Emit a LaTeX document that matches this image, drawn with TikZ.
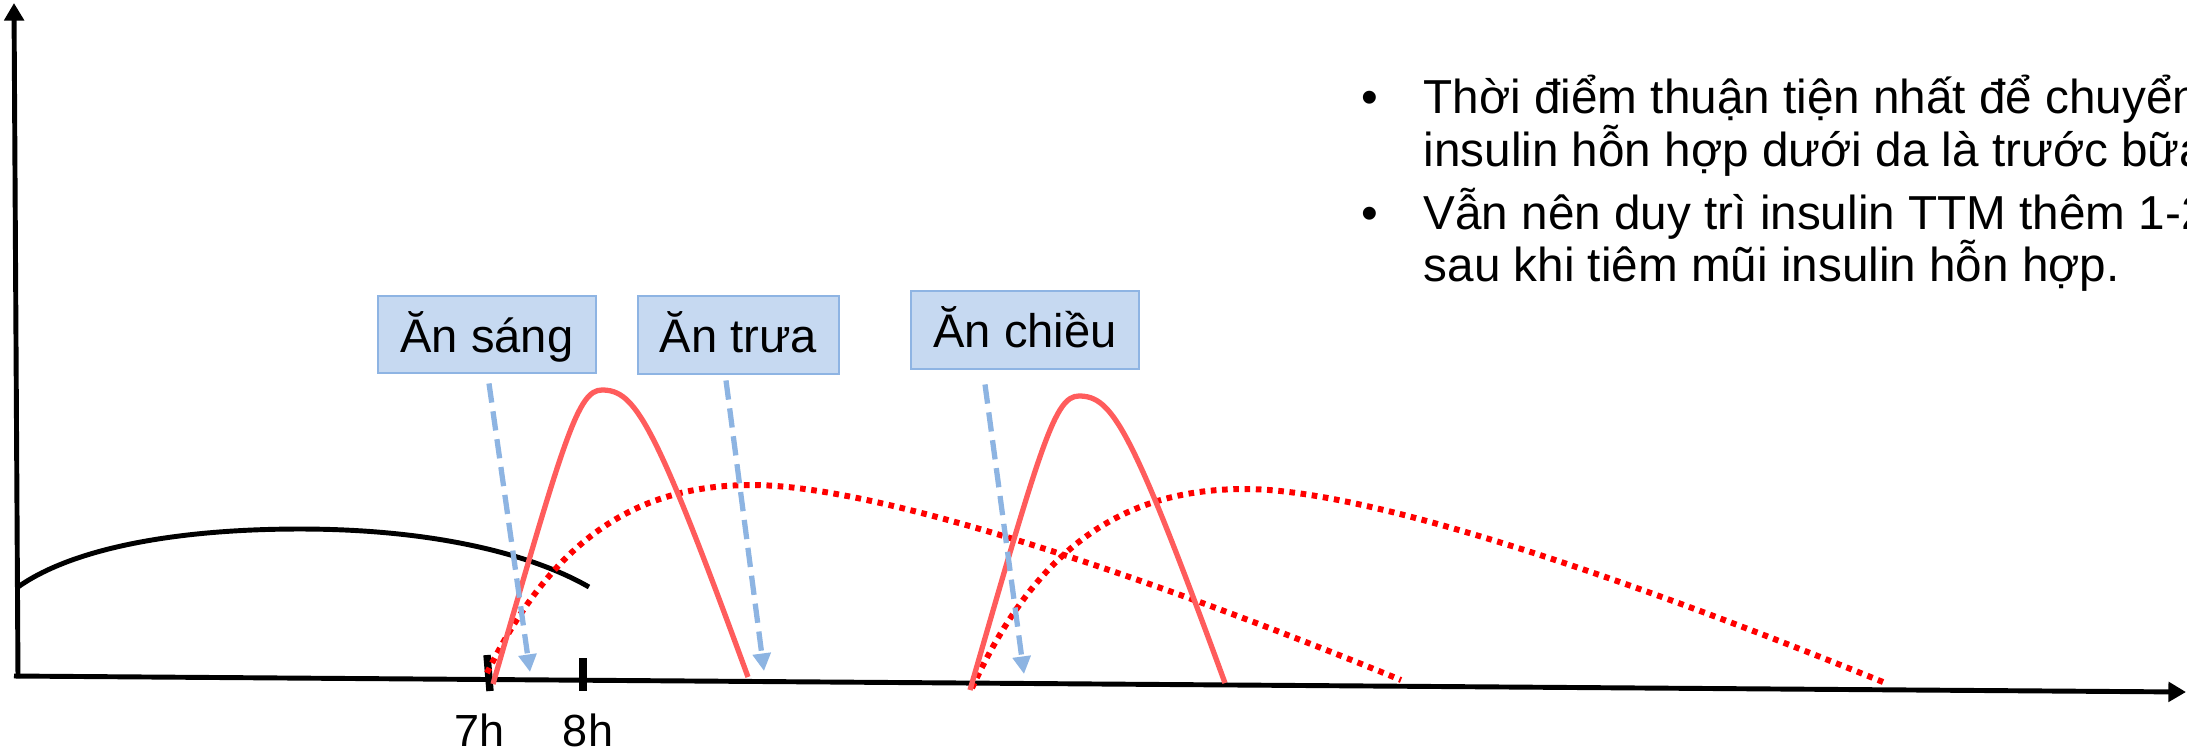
\documentclass[tikz,border=0pt]{standalone}
\usepackage{fontspec}
\setmainfont{Liberation Sans}
\usetikzlibrary{arrows.meta}
\usetikzlibrary{calc}
\definecolor{boxfill}{RGB}{198,217,241}
\definecolor{boxline}{RGB}{142,180,227}
\definecolor{mealblue}{RGB}{141,180,226}
\definecolor{peakred}{RGB}{255,92,92}
\tikzset{
axis/.style={line width=1.4pt,-{Triangle[width=5.5pt,length=5pt]}},
meal/.style={rectangle,draw=boxline,fill=boxfill,line width=0.8pt,inner sep=0pt,text height=0.44cm,text depth=0.09cm,font=\fontsize{13.4}{15}\selectfont},
mealarrow/.style={draw=mealblue,line width=1.5pt,dash pattern=on 5.5pt off 2.5pt,-{Triangle[width=5pt,length=5pt]}},
rapid/.style={draw=peakred,line width=1.5pt},
mixed/.style={draw=red,line width=1.7pt,dash pattern=on 1.6pt off 1.6pt},
hourtick/.style={line width=2.1pt},
bullettext/.style={font=\fontsize{13.55}{15}\selectfont,inner sep=0pt,anchor=base west},
}

\begin{document}
\begin{tikzpicture}[x=0.01cm,y=-0.01cm]
\useasboundingbox (0,0) rectangle (2187,753);
\clip (0,0) rectangle (2187,753);

% axes
\draw[axis] (18,678) -- (14,3);
\draw[axis] (14,676) -- (2186,692);
\draw[hourtick] (487,655) -- (490,691);
\draw[hourtick] (583,658) -- (583,691);
\node[font=\fontsize{12.8}{14}\selectfont,inner sep=0pt,anchor=base] (h7) at (480,746) {7h};
\node[font=\fontsize{12.8}{14}\selectfont,inner sep=0pt,anchor=base] (h8) at (588,746) {8h};

% insulin curves
\draw[line width=1.4pt] (18,587) .. controls (70,550) and (170,529) .. (300,529) .. controls (430,529) and (530,553) .. (589,587);
\draw[mixed] (487,673) .. controls (555,535) and (640,485) .. (752,485) .. controls (900,485) and (1230,610) .. (1401,680);
\draw[mixed] (972,688) .. controls (1040,540) and (1130,489) .. (1245,489) .. controls (1390,489) and (1715,614) .. (1888,684);
\draw[rapid] (493,684) .. controls (565,435) and (578,390) .. (602,390) .. controls (635,390) and (654,420) .. (748,677);
\draw[rapid] (970,690) .. controls (1042,441) and (1055,396) .. (1079,396) .. controls (1112,396) and (1131,426) .. (1225,683);

% meals
\node[meal,minimum width=2.18cm,minimum height=0.77cm] (sang) at (487,334.5) {Ăn sáng};
\node[meal,minimum width=2.01cm,minimum height=0.78cm] (trua) at (738.5,335) {Ăn trưa};
\node[meal,minimum width=2.28cm,minimum height=0.78cm] (chieu) at (1025,330) {Ăn chiều};
\coordinate (sangtip) at (530,672);
\coordinate (truatip) at (764,671);
\coordinate (chieutip) at (1024,674);
\draw[mealarrow] ($(sang.south)+(2,9)$) -- (sangtip);
\draw[mealarrow] ($(trua.south)+(-12.5,5)$) -- (truatip);
\draw[mealarrow] ($(chieu.south)+(-40,14)$) -- (chieutip);

% notes
\node[bullettext,anchor=base] (b1) at (1370,113) {•};
\node[bullettext] (l1) at (1423,113) {Thời điểm thuận tiện nhất để chuyển};
\node[bullettext] (l2) at (1423,166) {insulin hỗn hợp dưới da là trước bữa};
\node[bullettext,anchor=base] (b2) at (1370,229) {•};
\node[bullettext] (l3) at (1423,229) {Vẫn nên duy trì insulin TTM thêm 1-2};
\node[bullettext] (l4) at (1423,281) {sau khi tiêm mũi insulin hỗn hợp.};
\end{tikzpicture}
\end{document}
